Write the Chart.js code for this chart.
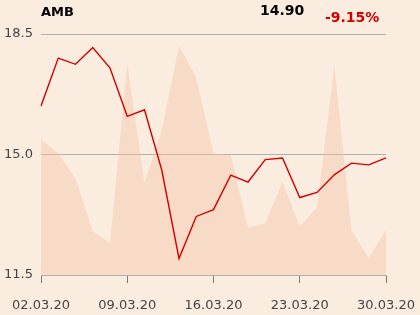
<!DOCTYPE html>
<html>
<head>
<meta charset="utf-8">
<script src="https://cdn.jsdelivr.net/npm/chart.js@4/dist/chart.umd.min.js"></script>
<style>
  html, body { margin: 0; padding: 0; background: #fbece0; }
  #wrap { position: relative; width: 420px; height: 315px; }
</style>
</head>
<body>
<div id="wrap"><canvas id="chart" width="420" height="315"></canvas></div>
<script>
// DATA
const stock_name = "AMB";
const last_price = "14.90";
const change_text = "-9.15%";

const dates = [
	"02.03.20", "03.03.20", "04.03.20", "05.03.20", "06.03.20",
	"09.03.20", "10.03.20", "11.03.20", "12.03.20", "13.03.20",
	"16.03.20", "17.03.20", "18.03.20", "19.03.20", "20.03.20",
	"23.03.20", "24.03.20", "25.03.20", "26.03.20", "27.03.20",
	"30.03.20"
];
const prices = [
	16.41, 17.80, 17.62, 18.11, 17.51,
	16.11, 16.30, 14.55, 11.98, 13.20,
	13.40, 14.40, 14.20, 14.85, 14.90,
	13.75, 13.90, 14.41, 14.75, 14.70,
	14.90
];
// volume, in percent of the plot height
const volume = [
	56.3, 50.5, 40.0, 18.3, 13.2,
	87.8, 38.3, 60.2, 95.0, 81.9,
	50.5, 49.8, 19.5, 21.5, 38.7,
	20.0, 28.1, 86.8, 18.7, 6.9,
	18.7
];
const price_ticks = [11.5, 15.0, 18.5];

const ctx = document.getElementById("chart").getContext("2d");

// header texts
const headerPlugin = {
	id: "header",
	afterDraw(chart){
		const c = chart.ctx;
		c.save();
		c.textBaseline = "alphabetic";
		c.textAlign = "left";
		c.fillStyle = "#000";
		c.font = "bold 13px 'DejaVu Sans'";
		c.fillText(stock_name, 41, 15.5);
		c.font = "bold 14px 'DejaVu Sans'";
		c.fillText(last_price, 260, 14.5);
		c.fillStyle = "#d40000";
		c.fillText(change_text, 325, 21.5);
		c.restore();
	}
};

new Chart(ctx, {
	type: "line",
	data: {
		labels: dates,
		datasets: [{
			label: "Price",
			data: prices,
			yAxisID: "y",
			fill: false,
			borderColor: "#d40000",
			borderWidth: 1.4,
			pointRadius: 0,
			tension: 0,
			order: 0
		},{
			label: "Volume",
			data: volume,
			yAxisID: "y2",
			fill: "start",
			borderWidth: 0,
			borderColor: "rgba(0,0,0,0)",
			backgroundColor: "rgba(245,195,160,0.4)",
			pointRadius: 0,
			tension: 0,
			order: 1
		}]
	},
	options: {
		responsive: false,
		animation: false,
		layout: { padding: { top: 34, right: 34, bottom: 3, left: 0 } },
		plugins: { legend: { display: false }, tooltip: { enabled: false } },
		scales: {
			x: {
				offset: false,
				afterFit: function(scale){
					scale.height = 37;
					scale.paddingLeft = 0;
					scale.paddingRight = 0;
				},
				grid: { drawOnChartArea: false, drawTicks: true, tickLength: 8, color: "#7a7a7a" },
				border: { display: true, color: "#b0b0b0" },
				ticks: {
					autoSkip: false,
					maxRotation: 0,
					padding: 15,
					color: "#444",
					font: { family: "DejaVu Sans", size: 13 },
					callback: function(val, i){ return i % 5 == 0 ? dates[i] : null; }
				}
			},
			y: {
				min: 11.5,
				max: 18.5,
				afterBuildTicks: function(scale){ scale.ticks = price_ticks.map(v => ({ value: v })); },
				afterFit: function(scale){ scale.width = 41; },
				grid: { drawTicks: false, color: "#b0b0b0" },
				border: { display: false },
				ticks: {
					padding: 8,
					color: "#444",
					font: { family: "DejaVu Sans", size: 13 },
					callback: v => v.toFixed(1)
				}
			},
			y2: {
				display: false,
				min: 0,
				max: 100
			}
		}
	},
	plugins: [headerPlugin]
});
</script>
</body>
</html>
